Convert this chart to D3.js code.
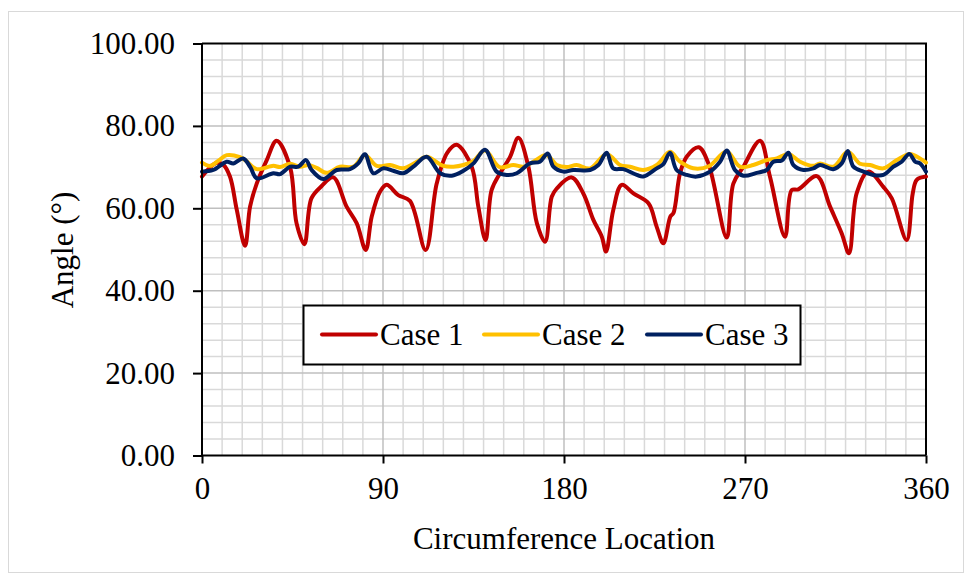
<!DOCTYPE html>
<html>
<head>
<meta charset="utf-8">
<script src="https://cdn.jsdelivr.net/npm/d3@7"></script>
<style>
  html, body { margin: 0; padding: 0; background: #fff; }
  svg { display: block; }
  text { font-family: "Liberation Serif", "Times New Roman", serif; fill: #000; }
</style>
</head>
<body>
<svg id="chart" width="971" height="581"></svg>
<script>
// ---- data ----
const xTicks = [0, 90, 180, 270, 360];
const yTicks = [0, 20, 40, 60, 80, 100];
const seriesNames = ["Case 1", "Case 2", "Case 3"];
const seriesColors = ["#C00000", "#FFC000", "#002060"];

const case1X = [0, 7, 10.5, 13.9, 17.3, 21.4, 23.9, 27.2, 32.2, 37.1, 43.8, 47, 50.9, 54.4, 59.5, 65.3, 71.9, 76.9, 81.4, 84.4, 88.5, 91.8, 97.6, 103.4, 111.2, 116.7, 122, 126.6, 134.1, 137.4, 141, 144, 148.2, 153.2, 157.3, 162.3, 166.5, 170.6, 173.9, 176.4, 183.8, 189.6, 194.6, 198.8, 200.9, 204.5, 208.7, 214.5, 222, 226.1, 229.4, 232.9, 234.4, 237.7, 241, 247, 251.8, 260.9, 264.2, 269.2, 277.5, 282.4, 289.9, 293.2, 296.5, 305.7, 312.3, 318.1, 321.7, 325.5, 331.3, 338.8, 343, 350.4, 353.4, 355.4, 360];
const case1Y = [67.7, 71, 70.6, 67.7, 59.6, 50.9, 60.4, 66, 71.7, 76.4, 70, 56.4, 51.3, 62.4, 65.4, 67.5, 60.4, 56.4, 49.9, 58, 64, 65.7, 63.2, 61.8, 49.9, 66, 73.5, 75.4, 70.1, 60.4, 52.3, 64.4, 68.5, 72.5, 77.1, 70.1, 56.4, 51.9, 62.8, 64.8, 67.5, 63.6, 57.2, 53.1, 49.5, 59.6, 65.7, 63.6, 61.2, 55.5, 51.5, 58, 58.8, 68.5, 72.5, 74.8, 70.9, 52.9, 66, 70.1, 76.4, 67.7, 53.1, 64.4, 64.6, 67.8, 60.4, 53.9, 49.1, 63.6, 68.9, 65.2, 62.4, 52.3, 63.6, 66.9, 67.7];

const case2X = [0, 4, 8, 12.3, 18.9, 22, 27.2, 35.5, 38.8, 43.8, 48.7, 53, 57, 62, 68.6, 75.3, 81, 86.9, 93.5, 100, 106.8, 111.7, 120, 125, 130, 135, 140.7, 148, 154.8, 160, 164.7, 171.4, 176.4, 181.3, 186.3, 193, 201.2, 207.9, 212.8, 219.4, 226.1, 232.7, 237.7, 244.3, 252, 260.9, 267.5, 274.1, 280.8, 285.8, 291.6, 297.4, 304, 307.3, 313.9, 321.1, 327.2, 332.2, 338.8, 345.5, 352.1, 357, 360];
const case2Y = [71.1, 70.3, 71.5, 72.9, 72.4, 71.5, 69.5, 70.3, 70, 70.8, 70.1, 70.5, 69.8, 68.6, 70.1, 70.1, 72.9, 70.3, 70.5, 69.7, 71.3, 72.5, 70.3, 70.1, 70.5, 71.5, 74, 70, 70.5, 70.1, 71.3, 72.9, 70.5, 70, 70.5, 69.7, 73.2, 70.5, 70.1, 69.3, 70.5, 73.7, 71.3, 69.7, 70.2, 73.8, 70.1, 70.5, 71.7, 72.1, 73.2, 71.3, 70.3, 70.9, 70.1, 73.7, 70.8, 70.5, 69.7, 71.7, 73.2, 72.1, 71.1];

const case3X = [0, 5.6, 12.3, 15.6, 20.5, 24, 27.2, 35.5, 38.8, 43.8, 47.9, 51.7, 54.5, 60.3, 67, 73.6, 77.7, 81, 85.2, 90.2, 95.1, 100.1, 105.1, 111.7, 118.4, 124.2, 130, 135, 140.7, 146.5, 151.5, 156.5, 163.1, 168, 171.9, 174.7, 179.7, 184.6, 193, 197.1, 201.2, 204.5, 209.5, 216.2, 219.4, 226.1, 229.4, 232.7, 236, 241, 246, 252.6, 257.6, 260.9, 265, 269.2, 275.8, 280.8, 284.1, 288.3, 291.6, 294.1, 299.1, 304, 307.3, 313.9, 318.1, 321.1, 323.9, 328.9, 333.8, 338.8, 343.8, 347.9, 351.7, 354.6, 357, 360];
const case3Y = [68.9, 69.3, 71.3, 70.9, 72.1, 70, 67.3, 68.5, 68.3, 70.1, 70.1, 71.7, 69.3, 67.1, 69.3, 69.5, 70.9, 73.1, 68.5, 69.7, 69.1, 68.5, 70.1, 72.5, 68.5, 67.9, 69.1, 70.9, 74.2, 68.9, 68.1, 68.5, 70.9, 71.3, 73.3, 70.1, 68.9, 69.3, 69.3, 70.5, 73.5, 69.7, 69.5, 68.1, 67.7, 69.7, 70.7, 73.5, 69.3, 68.1, 67.7, 68.9, 71.3, 74, 69.3, 67.9, 68.6, 69.3, 71.3, 71.6, 73.5, 70.5, 69.3, 69.7, 70.5, 69.5, 70.9, 73.9, 70.1, 68.9, 68.1, 68.1, 70.1, 71.3, 73.2, 71.3, 70.9, 68.9];

const xTitle = "Circumference Location";
const yTitle = "Angle (°)";

// ---- layout ----
const svg = d3.select("#chart");
const plot = { left: 202, right: 926, top: 43.5, bottom: 455.5 };
const x = d3.scaleLinear().domain([0, 360]).range([plot.left, plot.right]);
const y = d3.scaleLinear().domain([0, 100]).range([plot.bottom, plot.top]);
const fontSize = 31;

// outer chart border
svg.append("rect")
  .attr("x", 8.5).attr("y", 11.5).attr("width", 955).attr("height", 561)
  .attr("fill", "#fff").attr("stroke", "#d9d9d9").attr("stroke-width", 1);

// minor grid
const g = svg.append("g");
g.selectAll("line.vminor").data(d3.range(10, 360, 10).filter(v => v % 90 !== 0)).join("line")
  .attr("x1", d => x(d)).attr("x2", d => x(d))
  .attr("y1", plot.top).attr("y2", plot.bottom)
  .attr("stroke", "#d9d9d9").attr("stroke-width", 1.5);
g.selectAll("line.hminor").data(d3.range(4, 100, 4).filter(v => v % 20 !== 0)).join("line")
  .attr("x1", plot.left).attr("x2", plot.right)
  .attr("y1", d => y(d)).attr("y2", d => y(d))
  .attr("stroke", "#d9d9d9").attr("stroke-width", 1.5);
// major grid
g.selectAll("line.vmajor").data([90, 180, 270]).join("line")
  .attr("x1", d => x(d)).attr("x2", d => x(d))
  .attr("y1", plot.top).attr("y2", plot.bottom)
  .attr("stroke", "#bfbfbf").attr("stroke-width", 1.5);
g.selectAll("line.hmajor").data([20, 40, 60, 80]).join("line")
  .attr("x1", plot.left).attr("x2", plot.right)
  .attr("y1", d => y(d)).attr("y2", d => y(d))
  .attr("stroke", "#bfbfbf").attr("stroke-width", 1.5);

// plot border (top/right)
svg.append("path")
  .attr("d", `M${plot.left},${plot.top}H${plot.right}V${plot.bottom}`)
  .attr("fill", "none").attr("stroke", "#000").attr("stroke-width", 2);

// series
const line = d3.line().x(d => x(d[0])).y(d => y(d[1])).curve(d3.curveCatmullRom.alpha(0.5));
const seriesData = [
  d3.zip(case1X, case1Y),
  d3.zip(case2X, case2Y),
  d3.zip(case3X, case3Y)
];
[0, 1, 2].forEach(i => {
  svg.append("path")
    .datum(seriesData[i])
    .attr("d", line)
    .attr("fill", "none")
    .attr("stroke", seriesColors[i])
    .attr("stroke-width", 4)
    .attr("stroke-linejoin", "round")
    .attr("stroke-linecap", "round");
});

// axes
const xAxis = d3.axisBottom(x).tickValues(xTicks).tickSize(8).tickPadding(13).tickFormat(d3.format("d"));
const yAxis = d3.axisLeft(y).tickValues(yTicks).tickSize(9).tickPadding(18).tickFormat(d3.format(".2f"));
const gx = svg.append("g").attr("transform", `translate(0,${plot.bottom})`).call(xAxis);
const gy = svg.append("g").attr("transform", `translate(${plot.left},0)`).call(yAxis);
[gx, gy].forEach(a => {
  a.select(".domain").attr("stroke", "#000").attr("stroke-width", 2);
  a.selectAll(".tick line").attr("stroke", "#000").attr("stroke-width", 2);
  a.selectAll(".tick text").attr("font-family", "Liberation Serif").attr("font-size", fontSize).attr("fill", "#000");
});
gx.select(".domain").attr("d", `M${plot.left},0H${plot.right}`);
gy.select(".domain").attr("d", `M0,${plot.top}V${plot.bottom}`);

// axis titles
svg.append("text")
  .attr("x", (plot.left + plot.right) / 2).attr("y", 549)
  .attr("text-anchor", "middle").attr("font-size", fontSize)
  .text(xTitle);
svg.append("text")
  .attr("transform", `translate(73,250) rotate(-90)`)
  .attr("text-anchor", "middle").attr("font-size", fontSize)
  .text(yTitle);

// legend
const lg = svg.append("g");
lg.append("rect").attr("x", 303.5).attr("y", 305.5).attr("width", 497).attr("height", 59)
  .attr("fill", "#fff").attr("stroke", "#000").attr("stroke-width", 2);
const legendX = [322, 484, 647];
seriesNames.forEach((name, i) => {
  lg.append("line")
    .attr("x1", legendX[i]).attr("x2", legendX[i] + 54)
    .attr("y1", 334.5).attr("y2", 334.5)
    .attr("stroke", seriesColors[i]).attr("stroke-width", 4).attr("stroke-linecap", "round");
  lg.append("text")
    .attr("x", legendX[i] + 58).attr("y", 345)
    .attr("font-size", fontSize)
    .text(name);
});
</script>
</body>
</html>
